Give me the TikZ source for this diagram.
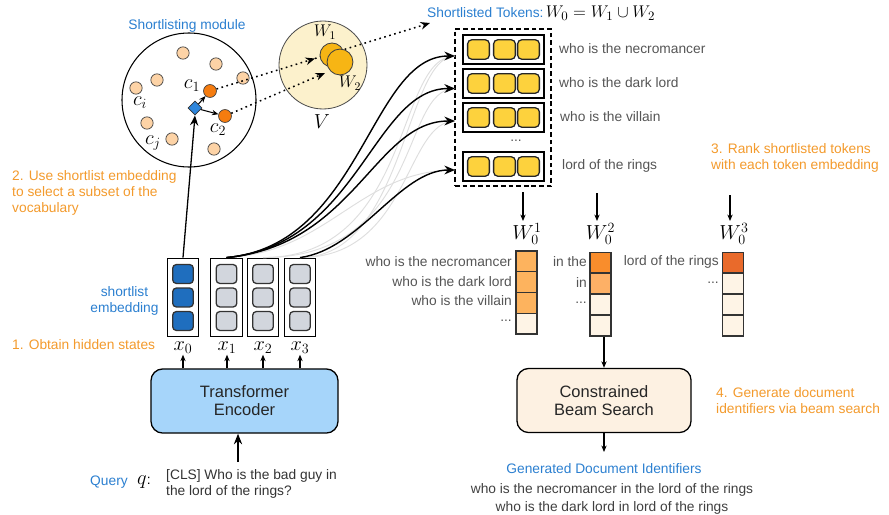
\documentclass[tikz,border=0pt]{standalone}
\usepackage{fontspec}
\setmainfont{Liberation Sans}
\usetikzlibrary{arrows.meta,shapes.geometric,calc}
\definecolor{tblue}{HTML}{2B7FD0}
\definecolor{torange}{HTML}{F39A2C}
\definecolor{tgray}{HTML}{555555}
\definecolor{peachc}{HTML}{FDD3A6}
\definecolor{dotorange}{HTML}{F57C0F}
\definecolor{diablue}{HTML}{2E86DC}
\definecolor{vfill}{HTML}{FCF1CC}
\definecolor{wfill}{HTML}{F7B514}
\definecolor{tokyellow}{HTML}{FDD23D}
\definecolor{embblue}{HTML}{1F6EBE}
\definecolor{embgray}{HTML}{D2D6DD}
\definecolor{encblue}{HTML}{A6D5FA}
\definecolor{beamcream}{HTML}{FDF1E2}
\definecolor{cella}{HTML}{FDB35E}
\definecolor{cellb}{HTML}{F98D2C}
\definecolor{cellc}{HTML}{FDB066}
\definecolor{celld}{HTML}{E96A2B}
\definecolor{cellcream}{HTML}{FEF4E6}
\begin{document}
\begin{tikzpicture}[x=0.85pt, y=-0.85pt,
 lbl/.style={inner sep=0pt, font=\fontsize{11.7}{13.6}\selectfont},
 gtxt/.style={lbl, text=tgray},
 otxt/.style={lbl, text=torange, align=left},
 btxt/.style={lbl, text=tblue},
 peach/.style={circle, draw=black!75, line width=0.6pt, fill=peachc, minimum size=10.5pt, inner sep=0pt},
 odot/.style={circle, draw=black!75, line width=0.6pt, fill=dotorange, minimum size=11pt, inner sep=0pt},
 mlbl/.style={inner sep=0.5pt, font=\fontsize{18}{20}\selectfont},
 tok/.style={draw=black!85, line width=1.1pt, fill=tokyellow, rounded corners=3.5pt, minimum width=18.5pt, minimum height=16.5pt, inner sep=0pt},
 tokrow/.style={draw=black, line width=1.2pt, minimum width=69pt, minimum height=24.5pt, inner sep=0pt},
 emb/.style={draw=black!80, line width=1.1pt, rounded corners=3pt, minimum width=17.5pt, minimum height=16pt, inner sep=0pt},
 embbox/.style={draw=black, line width=0.9pt, minimum width=27pt, minimum height=67pt, inner sep=0pt},
 cell/.style={draw=black!80, line width=1.1pt, minimum width=17.8pt, minimum height=17.6pt, inner sep=0pt},
 arr/.style={-{Stealth[length=8.5pt,width=7pt]}, line width=1.1pt},
 sarr/.style={-{Stealth[length=5.5pt,width=4.5pt]}, line width=0.9pt},
 dotl/.style={line width=1.3pt, dash pattern=on 1.4pt off 3pt, -{Stealth[length=8pt,width=6.5pt]}},
 gcurve/.style={line width=0.8pt, draw=black!13},
 bcurve/.style={line width=1.2pt, -{Stealth[length=9pt,width=7.5pt]}},
 bigbox/.style={draw=black, line width=1.1pt, rounded corners=10pt, minimum height=54.5pt, inner sep=0pt, align=center, font=\fontsize{14}{15.3}\selectfont, text=black!85},
]
\useasboundingbox (0,0) rectangle (889,514);

% ---------------- shortlisting module ----------------
\node[btxt] (sltitle) at (187,26) {Shortlisting module};
\node[circle, draw, line width=0.9pt, minimum size=113.9pt, inner sep=0pt] (slcirc) at (189,100) {};
\foreach \n/\x/\y in {1/183/53, 2/216/64, 3/243/78, 4/157/80, 5/136/88, 6/147/123, 7/172/139, 8/214/149}
  \node[peach] (p\n) at (\x,\y) {};
\node[odot] (c1) at (210,91) {};
\node[odot] (c2) at (225,116) {};
\node[diamond, draw=black!80, line width=0.7pt, fill=diablue, minimum size=12pt, inner sep=0pt] (dia) at (195,108) {};
\draw[sarr] (dia) -- (c1);
\draw[sarr] (dia) -- (c2);
\node[mlbl] (lc1) at (192,86) {$c_1$};
\node[mlbl] (lci) at (140,103) {$c_i$};
\node[mlbl] (lc2) at (218,130) {$c_2$};
\node[mlbl] (lcj) at (153,143) {$c_j$};

% ---------------- vocabulary Venn ----------------
\node[circle, draw=black!70, line width=0.7pt, fill=vfill, minimum size=74.8pt, inner sep=0pt] (vcirc) at (323,65) {};
\coordinate (w1hit) at (315,58.5);
\coordinate (topend) at (430,23);
\coordinate (w2hit) at (325,73);
\draw[dotl] (w1hit) -- (topend);
\node[circle, draw=black!75, line width=0.7pt, fill=wfill, minimum size=20.4pt, inner sep=0pt] (w1c) at (332,55) {};
\node[circle, draw=black!75, line width=0.7pt, fill=wfill, minimum size=22pt, inner sep=0pt] (w2c) at (340,62) {};
\draw[dotl] (c1) -- (w1hit);
\draw[dotl] (c2) -- (w2hit);
\node[inner sep=0pt, font=\fontsize{14.5}{16}\selectfont] (lw1) at (325,32) {$W_1$};
\node[inner sep=0pt, font=\fontsize{14.5}{16}\selectfont] (lw2) at (350,83) {$W_2$};
\node[inner sep=0pt, font=\fontsize{16.5}{18}\selectfont] (lv) at (322,122) {$V$};

% ---------------- shortlisted tokens ----------------
\node[lbl, anchor=west] (sttitle) at (427,13) {\textcolor{tblue}{Shortlisted Tokens:}\,{\fontsize{15.3}{17}\selectfont$W_0=W_1\cup W_2$}};
\node[draw, line width=1pt, dash pattern=on 4pt off 2.5pt, minimum width=81.6pt, minimum height=133.5pt, inner sep=0pt] (dbox) at (503,107.5) {};
\foreach \r/\y in {1/49.5, 2/83.5, 3/117.5, 4/166.5} {
  \node[tokrow] (row\r) at (503.5,\y) {};
  \foreach \k/\x in {1/478.5, 2/504.5, 3/528.5}
    \node[tok] (tok\r\k) at (\x,\y) {};
}
\node[gtxt] (rdots) at (516,141) {...};
\node[gtxt, anchor=west] (rl1) at (559,49) {who is the necromancer};
\node[gtxt, anchor=west] (rl2) at (559,83) {who is the dark lord};
\node[gtxt, anchor=west] (rl3) at (560,117) {who is the villain};
\node[gtxt, anchor=west] (rl4) at (562,166) {lord of the rings};

% ---------------- hidden states ----------------
\foreach \i/\x in {0/183, 1/226.5, 2/263, 3/300}
  \node[embbox] (xb\i) at (\x,297.5) {};
\foreach \k/\y in {1/274, 2/297.5, 3/321} {
  \node[emb, fill=embblue] (e0\k) at (183,\y) {};
  \node[emb, fill=embgray] (e1\k) at (226.5,\y) {};
  \node[emb, fill=embgray] (e2\k) at (263,\y) {};
  \node[emb, fill=embgray] (e3\k) at (300,\y) {};
}
\foreach \i/\x in {0/183, 1/227, 2/263, 3/300}
  \node[inner sep=0.5pt, font=\fontsize{17}{19}\selectfont] (xl\i) at (\x,348) {$x_\i$};

% connectors to tokens
\coordinate (in1) at (455,56);
\coordinate (in2) at (455,88.5);
\coordinate (in3) at (455,121);
\coordinate (in4) at (455,170);
\draw[gcurve] (xb1.north) .. controls +(102,-5) and +(-95,0) .. (in4);
\draw[gcurve] (xb2.north) .. controls +(150,0) and +(-60,0) .. (in1);
\draw[gcurve] (xb2.north) .. controls +(160,0) and +(-55,0) .. (in2);
\draw[gcurve] (xb3.north) .. controls +(105,0) and +(-50,0) .. (in1);
\draw[gcurve] (xb3.north) .. controls +(110,0) and +(-50,0) .. (in3);
\draw[bcurve] (xb1.north) .. controls +(135,-12) and +(-85,0) .. (in1);
\draw[bcurve] (xb1.north) .. controls +(132,-12) and +(-82,0) .. (in2);
\draw[bcurve] (xb1.north) .. controls +(128,-12) and +(-80,0) .. (in3);
\draw[bcurve] (xb3.north) .. controls +(60,-8) and +(-55,0) .. (in4);

\draw[arr] (xb0.north) -- (dia.south);

% ---------------- encoder ----------------
\node[bigbox, fill=encblue, minimum width=159pt] (enc) at (244.5,401) {Transformer\\Encoder};
\foreach \i in {0,1,2,3}
  \draw[sarr] (enc.north -| xl\i) -- (xl\i.south);
\coordinate (qtop) at (238,462);
\draw[-{Stealth[length=9pt,width=7pt]}, line width=1.5pt] (qtop) -- (qtop |- enc.south);
\node[btxt, anchor=west] (qlab) at (90,482) {Query};
\node[inner sep=0pt, anchor=west, font=\fontsize{16}{18}\selectfont] (qsym) at (137,482) {$q$\fontsize{11.7}{13}\selectfont:};
\node[gtxt, anchor=west, align=left, text=black!80] (qtext) at (166,484) {[CLS] Who is the bad guy in\\the lord of the rings?};

% ---------------- left annotations ----------------
\node[otxt, anchor=west] (step2) at (12,192.5) {2. Use shortlist embedding\\to select a subset of the\\vocabulary};
\node[btxt, align=center] (slemb) at (124.5,301) {shortlist\\embedding};
\node[otxt, anchor=west] (step1) at (12,345) {1. Obtain hidden states};

% ---------------- ranking columns ----------------
\node[otxt, anchor=west] (step3) at (711,158) {3. Rank shortlisted tokens\\with each token embedding};
\coordinate (d1) at (523,192);
\coordinate (d2) at (597,193);
\coordinate (d3) at (730,195);
\foreach \j/\x in {1/527,2/600.5,3/734}
  \node[inner sep=0pt, font=\fontsize{17.5}{19}\selectfont] (wl\j) at (\x,234) {$W_0^{\j}$};
\draw[sarr, line width=1.1pt] (d1) -- ($(d1 |- wl1.north)+(0,-2)$);
\draw[sarr, line width=1.1pt] (d2) -- ($(d2 |- wl2.north)+(0,-2)$);
\draw[sarr, line width=1.1pt] (d3) -- ($(d3 |- wl3.north)+(0,-2)$);

\node[cell, fill=cella] (a1) at (526.5,261.4) {};
\node[cell, fill=cella] (a2) at (526.5,282.1) {};
\node[cell, fill=cella] (a3) at (526.5,302.9) {};
\node[cell, fill=cellcream] (a4) at (526.5,323.6) {};
\node[cell, fill=cellb] (b1) at (600.5,262.5) {};
\node[cell, fill=cellc] (b2) at (600.5,283.5) {};
\node[cell, fill=cellcream] (b3) at (600.5,304.5) {};
\node[cell, fill=cellcream] (b4) at (600.5,325.5) {};
\node[cell, fill=celld] (d31) at (733,262.5) {};
\node[cell, fill=cellcream] (d32) at (733,283.5) {};
\node[cell, fill=cellcream] (d33) at (733,304.5) {};
\node[cell, fill=cellcream] (d34) at (733,325.5) {};

\node[gtxt, anchor=east] (al1) at (512,262) {who is the necromancer};
\node[gtxt, anchor=east] (al2) at (512,282) {who is the dark lord};
\node[gtxt, anchor=east] (al3) at (512,301) {who is the villain};
\node[gtxt, anchor=east] (al4) at (512,321) {...};
\node[gtxt, anchor=east] (bl1) at (587,262) {in the};
\node[gtxt, anchor=east] (bl2) at (587,283) {in};
\node[gtxt, anchor=east] (bl3) at (587,303) {...};
\node[gtxt, anchor=east] (dl1) at (719,262) {lord of the rings};
\node[gtxt, anchor=east] (dl2) at (719,283) {...};

% ---------------- beam search ----------------
\node[bigbox, fill=beamcream, minimum width=148pt] (beam) at (604,400.5) {Constrained\\Beam Search};
\draw[sarr, line width=1.1pt] (b4.south -| beam.north) -- (beam.north);
\coordinate (gout) at (604,452);
\draw[sarr, line width=1.1pt] (beam.south) -- (gout);
\node[otxt, anchor=west] (step4) at (716,400.5) {4. Generate document\\identifiers via beam search};
\node[btxt] (gentitle) at (604,469) {Generated Document Identifiers};
\node[gtxt, align=center, text=black!75, font=\fontsize{11.7}{15}\selectfont] (genids) at (612,499) {who is the necromancer in the lord of the rings\\who is the dark lord in lord of the rings};
\end{tikzpicture}
\end{document}
